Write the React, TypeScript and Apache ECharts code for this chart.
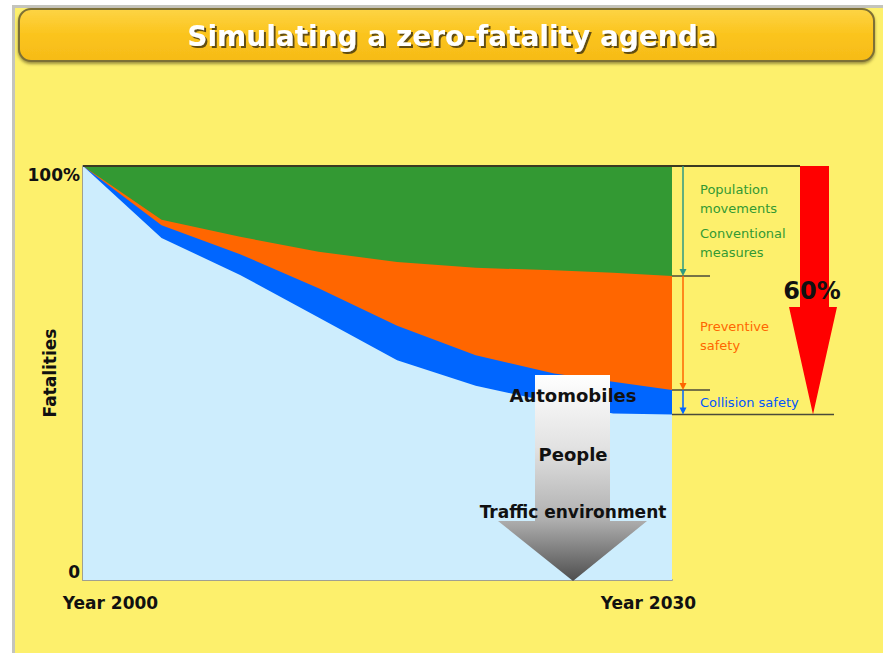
import React, { useEffect, useRef } from "react";
import * as echarts from "echarts";

// ---- data ----
const titleText = "Simulating a zero-fatality agenda";
const years = [2000, 2004, 2008, 2012, 2016, 2020, 2024, 2027, 2030];
// upper boundary of each band, % of year-2000 fatalities
const baselineLevel = [100, 100, 100, 100, 100, 100, 100, 100, 100]; // green top
const afterConventional = [100, 87.0, 82.9, 79.3, 76.8, 75.4, 74.8, 74.2, 73.4]; // orange top
const afterPreventive = [100, 85.7, 78.7, 70.5, 61.4, 54.3, 49.9, 47.9, 45.9]; // blue top
const afterCollision = [100, 82.6, 73.7, 63.4, 53.1, 46.9, 42.8, 40.2, 40.0]; // light-blue top
const xTickLabels = ["Year 2000", "Year 2030"];
const yTickLabels = ["0", "100%"];
const yAxisName = "Fatalities";
const reductionLabel = "60%";
const bandLabels = ["Population\nmovements", "Conventional\nmeasures", "Preventive\nsafety", "Collision safety"];
const arrowLabels = ["Automobiles", "People", "Traffic environment"];

const FONT = "DejaVu Sans";

export default function App() {
  const ref = useRef<HTMLDivElement>(null);
  useEffect(() => {
    if (!ref.current) return;
    const chart = echarts.init(ref.current, null, { renderer: "svg" });
    const pair = (arr: number[]) => years.map((y, i) => [y, arr[i]]);
    const mk = (name: string, arr: number[], color: string) => ({
      name,
      type: "line",
      data: pair(arr),
      showSymbol: false,
      symbol: "none",
      lineStyle: { width: 0 },
      areaStyle: { color, opacity: 1 },
      silent: true,
    });
    const base: any = {
      animation: false,
      backgroundColor: "#ffffff",
      title: {
        text: titleText,
        left: 447,
        top: 17,
        textAlign: "center",
        textStyle: {
          fontFamily: FONT,
          fontWeight: "bold",
          fontSize: 28,
          color: "#ffffff",
          textShadowColor: "rgba(70,55,10,0.85)",
          textShadowOffsetX: 2,
          textShadowOffsetY: 2,
          textShadowBlur: 1,
        },
      },
      grid: { left: 83, top: 166, width: 589, height: 414, containLabel: false, outerBoundsMode: "none" },
      xAxis: {
        type: "value",
        min: 2000,
        max: 2030,
        axisLine: { show: true, lineStyle: { color: "#a0a090", width: 2 } },
        axisTick: { show: false },
        splitLine: { show: false },
        axisLabel: {
          customValues: [2001.4, 2028.8],
          formatter: (v: number) => (v < 2015 ? xTickLabels[0] : xTickLabels[1]),
          fontFamily: FONT,
          fontWeight: "bold",
          fontSize: 17,
          color: "#111",
          margin: 14,
        },
      },
      yAxis: {
        type: "value",
        min: 0,
        max: 100,
        interval: 100,
        name: yAxisName,
        nameLocation: "middle",
        nameRotate: 90,
        nameGap: 25,
        nameMoveOverlap: false,
        nameTextStyle: { fontFamily: FONT, fontWeight: "bold", fontSize: 17, color: "#111" },
        axisLine: { show: true, lineStyle: { color: "#a0a090", width: 2 } },
        axisTick: { show: false },
        splitLine: { show: false },
        axisLabel: {
          formatter: (v: number) => (v >= 100 ? yTickLabels[1] : yTickLabels[0]),
          fontFamily: FONT,
          fontWeight: "bold",
          fontSize: 17,
          color: "#111",
          margin: 3,
          verticalAlignMaxLabel: "top",
          verticalAlignMinLabel: "bottom",
        },
      },
      series: [
        mk("Population movements / Conventional measures", baselineLevel, "#339933"),
        mk("Preventive safety", afterConventional, "#ff6600"),
        mk("Collision safety", afterPreventive, "#0066ff"),
        mk("Remaining", afterCollision, "#cdedfd"),
      ],
    };
    chart.setOption(base);

    const px = (v: number) => chart.convertToPixel({ gridIndex: 0 }, [2030, v]) as number[];
    const left = (chart.convertToPixel({ gridIndex: 0 }, [2000, 100]) as number[])[0];
    const [xr, yTop] = px(100);
    const n = years.length - 1;
    const yConv = px(afterConventional[n])[1];
    const yPrev = px(afterPreventive[n])[1];
    const yEnd = px(afterCollision[n])[1];
    const ax = xr + 11;
    const lineStyle = { stroke: "#4a4a3a", lineWidth: 1.5 };
    const vArrow = (y1: number, y2: number, color: string) => [
      { type: "line", z: 100, shape: { x1: ax, y1, x2: ax, y2: y2 - 5 }, style: { stroke: color, lineWidth: 1.5 } },
      { type: "polygon", z: 100, shape: { points: [[ax - 3.5, y2 - 7], [ax + 3.5, y2 - 7], [ax, y2]] }, style: { fill: color } },
    ];
    const txt = (x: number, y: number, text: string, color: string, size: number, extra: any = {}) => ({
      type: "text",
      z: 110,
      x,
      y,
      style: { text, fill: color, fontFamily: FONT, fontSize: size, ...extra },
    });

    const graphic: any[] = [
      // page background and title bar
      { type: "rect", z: -100, shape: { x: 13.5, y: 6.5, width: 880, height: 660 }, style: { fill: "#fdf06c", stroke: "#c4c4bc", lineWidth: 3 } },
      {
        type: "rect",
        z: -90,
        shape: { x: 19, y: 9, width: 855, height: 52, r: 12 },
        style: {
          fill: { type: "linear", x: 0, y: 0, x2: 0, y2: 1, colorStops: [{ offset: 0, color: "#fdd445" }, { offset: 0.5, color: "#fbc41c" }, { offset: 1, color: "#f6bb18" }] },
          stroke: "#7d7034",
          lineWidth: 2,
          shadowColor: "rgba(90,80,30,0.6)",
          shadowBlur: 3,
          shadowOffsetY: 2,
        },
      },
      // top frame line
      { type: "line", z: 100, shape: { x1: left, y1: yTop, x2: 800, y2: yTop }, style: { stroke: "#3a3a22", lineWidth: 2 } },
      // band separators on the right
      { type: "line", z: 100, shape: { x1: xr, y1: yConv, x2: xr + 38, y2: yConv }, style: lineStyle },
      { type: "line", z: 100, shape: { x1: xr, y1: yPrev, x2: xr + 38, y2: yPrev }, style: lineStyle },
      { type: "line", z: 100, shape: { x1: xr, y1: yEnd, x2: 834, y2: yEnd }, style: lineStyle },
      ...vArrow(yTop, yConv, "#2f9a82"),
      ...vArrow(yConv, yPrev, "#ff6600"),
      ...vArrow(yPrev, yEnd, "#0066ff"),
      txt(xr + 28, yTop + 14, bandLabels[0], "#339933", 13, { lineHeight: 19 }),
      txt(xr + 28, yTop + 58, bandLabels[1], "#339933", 13, { lineHeight: 19 }),
      txt(xr + 28, yConv + 41, bandLabels[2], "#ff6600", 13, { lineHeight: 19 }),
      txt(xr + 28, yPrev + 3, bandLabels[3], "#0055ff", 13, { lineHeight: 19 }),
      // red 60% arrow
      {
        type: "polygon",
        z: 100,
        shape: { points: [[800, yTop], [829, yTop], [829, 307], [837, 307], [813, yEnd], [789, 307], [800, 307]] },
        style: { fill: "#ff0000" },
      },
      txt(812, 291, reductionLabel, "#111", 24, { fontWeight: "bold", align: "center", verticalAlign: "middle" }),
      // grey measures arrow
      {
        type: "polygon",
        z: 100,
        shape: { points: [[535, 375], [610, 375], [610, 521], [647, 521], [573, 581], [498, 521], [535, 521]] },
        style: {
          fill: {
            type: "linear", x: 0, y: 0, x2: 0, y2: 1,
            colorStops: [
              { offset: 0, color: "#ffffff" },
              { offset: 0.35, color: "#e2e2e2" },
              { offset: 0.7, color: "#b0b0b0" },
              { offset: 1, color: "#4e4e4e" },
            ],
          },
        },
      },
      txt(573, 395, arrowLabels[0], "#111", 18, { fontWeight: "bold", align: "center", verticalAlign: "middle", textShadowColor: "rgba(0,0,0,0.35)", textShadowOffsetX: 1, textShadowOffsetY: 1 }),
      txt(573, 454, arrowLabels[1], "#111", 18, { fontWeight: "bold", align: "center", verticalAlign: "middle", textShadowColor: "rgba(0,0,0,0.35)", textShadowOffsetX: 1, textShadowOffsetY: 1 }),
      txt(573, 512, arrowLabels[2], "#111", 17, { fontWeight: "bold", align: "center", verticalAlign: "middle", textShadowColor: "rgba(0,0,0,0.35)", textShadowOffsetX: 1, textShadowOffsetY: 1 }),
    ];
    chart.setOption({ graphic });
    return () => chart.dispose();
  }, []);
  return (
    <div
      ref={ref}
      style={{ position: "fixed", left: 0, top: 0, width: 883, height: 653, background: "#fff" }}
    />
  );
}
